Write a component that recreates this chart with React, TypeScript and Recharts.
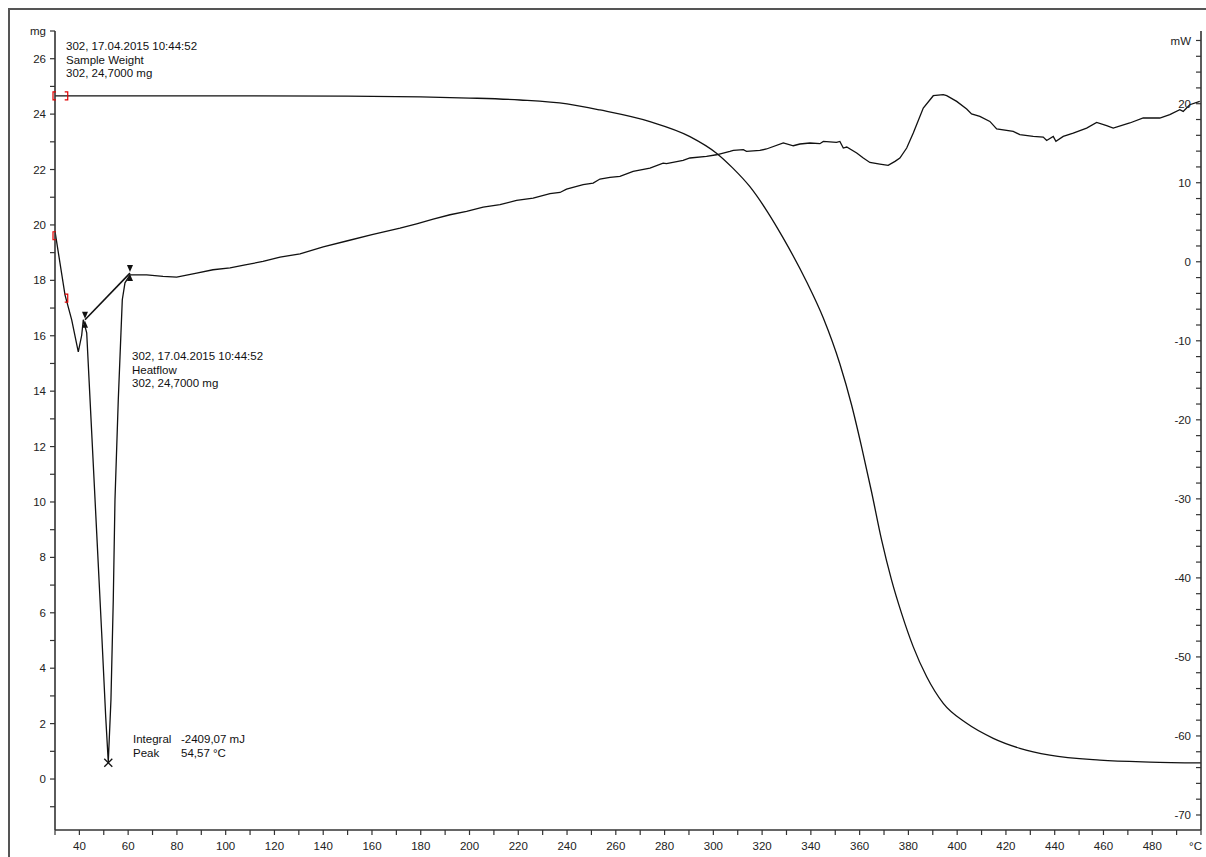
import React from 'react';
import {
  ComposedChart,
  Line,
  XAxis,
  YAxis,
  ReferenceLine,
  ReferenceDot
} from 'recharts';

const FONT = '"Liberation Sans", Arial, sans-serif';
const INK = '#111';
const AXIS = '#333';

// Sample Weight (TG), temperature in °C and mass in mg
const tgTemp = [30, 60, 100, 150, 180, 200, 220.7, 240, 253.5, 274, 290.4, 301.3, 308, 315, 322, 328.5, 338.3, 345.1, 351.9, 356.7, 360.8, 364.9, 369.0, 373.1, 377.2, 382.0, 387.5, 394.3, 403.9, 414.8, 425.7, 438, 458.5, 479, 500];
const tgMass = [24.66, 24.66, 24.66, 24.65, 24.62, 24.58, 24.51, 24.37, 24.15, 23.73, 23.19, 22.59, 22.05, 21.38, 20.5, 19.55, 17.94, 16.64, 14.98, 13.5, 11.99, 10.36, 8.63, 7.18, 5.98, 4.77, 3.69, 2.73, 2.01, 1.47, 1.11, 0.86, 0.68, 0.61, 0.58];

// Heatflow (DSC), temperature in °C and heat flow in mW
const hfTemp = [30, 32.05, 34.1, 36.85, 39.55, 40.95, 41.6, 43.0, 45.05, 47.1, 49.15, 50.8, 51.85, 52.95, 53.9, 54.6, 55.95, 57.05, 57.6, 58.7, 60.75, 67.6, 74.3, 79.9, 88.1, 94.8, 101.8, 108, 115.3, 122.3, 130.5, 140, 150, 160, 171.5, 178.3, 185.1, 192.0, 198.8, 205.6, 212.5, 219.3, 226.1, 233.0, 237.1, 239.8, 246.6, 250.7, 253.5, 257.6, 261.7, 267.1, 274.0, 279.4, 280.8, 287.6, 290.4, 297.2, 301.3, 306.8, 308.2, 312.3, 313.6, 319.1, 321.8, 328.7, 332.8, 335.5, 339.6, 343.7, 345.1, 350.5, 351.9, 353.3, 354.7, 358.8, 361.5, 364.2, 368.3, 371.7, 374.5, 376.5, 379.3, 382.0, 386.1, 390.2, 394.3, 395.7, 399.8, 403.9, 405.9, 409.3, 413.4, 416.2, 423.0, 425.7, 431.2, 435.3, 436.7, 439.4, 440.5, 443.5, 447.6, 453.1, 457.2, 461.3, 464.0, 470.8, 476.3, 483.1, 487.2, 491.3, 492.7, 495.4, 499.5];
const hfPower = [3.84, -0.16, -4.18, -7.34, -11.4, -9.3, -7.34, -8.99, -21.6, -34.3, -47.0, -57.6, -63.3, -55.4, -42.8, -30.1, -17.5, -9.0, -4.8, -2.66, -1.65, -1.65, -1.86, -1.94, -1.43, -1.01, -0.76, -0.4, 0.04, 0.59, 1.0, 1.9, 2.66, 3.42, 4.26, 4.81, 5.4, 5.95, 6.37, 6.92, 7.22, 7.76, 8.06, 8.61, 8.77, 9.2, 9.75, 9.96, 10.47, 10.67, 10.8, 11.43, 11.86, 12.49, 12.41, 12.82, 13.13, 13.33, 13.54, 13.96, 14.09, 14.18, 13.96, 14.09, 14.27, 15.03, 14.68, 14.9, 15.03, 14.94, 15.23, 15.1, 15.23, 14.39, 14.52, 13.76, 13.13, 12.57, 12.36, 12.19, 12.7, 13.13, 14.39, 16.29, 19.46, 21.01, 21.14, 21.01, 20.29, 19.33, 18.7, 18.39, 17.76, 16.8, 16.49, 16.08, 15.86, 15.78, 15.35, 15.86, 15.23, 15.86, 16.29, 16.92, 17.63, 17.22, 16.92, 17.56, 18.19, 18.19, 18.61, 19.24, 19.03, 19.87, 20.29];

// axis ticks
const xTicks = Array.from({ length: 48 }, (_, i) => 30 + i * 10);
const leftTicks = Array.from({ length: 29 }, (_, i) => -1 + i);
const rightTicks = Array.from({ length: 50 }, (_, i) => -70 + i * 2);

// integration limits and peak of the melting signal
const integStart = { t: 42.3, p: -7.34 };
const integEnd = { t: 60.75, p: -1.43 };
const peak = { t: 51.85, p: -63.4 };

const tgData = tgTemp.map((t, i) => ({ t, w: tgMass[i] }));
const hfData = hfTemp.map((t, i) => ({ t, p: hfPower[i] }));

const fmtX = (v: number) => (v === 500 ? '°C' : v % 20 === 0 && v >= 40 && v <= 480 ? String(v) : '');
const fmtLeft = (v: number) => (v === 27 ? 'mg' : v % 2 === 0 && v >= 0 ? String(v) : '');
const fmtRight = (v: number) => (v === 28 ? 'mW' : v % 10 === 0 ? String(v) : '');

const tickStyle = { fill: '#222', fontSize: 11.5, fontFamily: FONT };

// x tick labels; the unit sits at the last tick, right-aligned to the axis end
const XTick = ({ x, y, payload }: any) => {
  const v = payload.value;
  const label = fmtX(v);
  if (!label) return null;
  const isUnit = v === 500;
  return (
    <text
      x={isUnit ? x + 1 : x}
      y={y}
      dy="0.71em"
      textAnchor={isUnit ? 'end' : 'middle'}
      {...tickStyle}
    >
      {label}
    </text>
  );
};

const XMark = ({ cx, cy }: any) => (
  <g stroke={INK} strokeWidth={1.3}>
    <line x1={cx - 4} y1={cy - 4} x2={cx + 4} y2={cy + 4} />
    <line x1={cx - 4} y1={cy + 4} x2={cx + 4} y2={cy - 4} />
  </g>
);

const OpenBracket = ({ cx, cy }: any) => (
  <path d={`M${cx + 1},${cy - 4} H${cx - 2} V${cy + 4} H${cx + 1}`} fill="none" stroke="#e00000" strokeWidth={1.2} />
);

const CloseBracket = ({ cx, cy }: any) => (
  <path d={`M${cx - 1},${cy - 4} H${cx + 2} V${cy + 4} H${cx - 1}`} fill="none" stroke="#e00000" strokeWidth={1.2} />
);

// small triangles marking an integration limit
const LimitMark = ({ cx, cy }: any) => (
  <g fill={INK}>
    <path d={`M${cx},${cy - 1} L${cx - 3},${cy - 8} L${cx + 3},${cy - 8} Z`} />
    <path d={`M${cx},${cy + 1} L${cx - 3},${cy + 8} L${cx + 3},${cy + 8} Z`} />
  </g>
);

const textStyle: React.CSSProperties = {
  position: 'absolute',
  fontFamily: FONT,
  fontSize: 11.5,
  lineHeight: '13.5px',
  color: '#111',
  whiteSpace: 'pre'
};

export default function App() {
  return (
    <div style={{ position: 'absolute', left: 0, top: 0, width: 1206, height: 857, overflow: 'hidden', background: '#fff' }}>
      <div
        style={{
          position: 'absolute',
          left: 8,
          top: 8,
          width: 1212,
          height: 862,
          border: '2px solid #555',
          boxSizing: 'border-box'
        }}
      />
      <div style={{ position: 'absolute', left: 0, top: 0 }}>
        <ComposedChart width={1206} height={857} margin={{ top: 31, right: 5, bottom: 0, left: 0 }}>
          <XAxis
            type="number"
            dataKey="t"
            domain={[30, 500]}
            ticks={xTicks}
            interval={0}
            allowDataOverflow
            height={27}
            tickSize={5}
            tickMargin={7}
            tick={<XTick />}
            axisLine={{ stroke: AXIS, strokeWidth: 1.6 }}
            tickLine={{ stroke: AXIS, strokeWidth: 1.2 }}
          />
          <YAxis
            yAxisId="left"
            type="number"
            domain={[-1.84, 27]}
            ticks={leftTicks}
            interval={0}
            allowDataOverflow
            width={55}
            tickSize={5}
            tickMargin={4}
            tickFormatter={fmtLeft}
            tick={tickStyle}
            axisLine={{ stroke: AXIS, strokeWidth: 1.6 }}
            tickLine={{ stroke: AXIS, strokeWidth: 1.2 }}
          />
          <YAxis
            yAxisId="right"
            orientation="right"
            mirror
            type="number"
            domain={[-71.9, 29.2]}
            ticks={rightTicks}
            interval={0}
            allowDataOverflow
            tickSize={5}
            tickMargin={5}
            tickFormatter={fmtRight}
            tick={tickStyle}
            axisLine={{ stroke: AXIS, strokeWidth: 1.6 }}
            tickLine={{ stroke: AXIS, strokeWidth: 1.2 }}
          />
          <Line
            yAxisId="left"
            data={tgData}
            dataKey="w"
            type="monotone"
            stroke={INK}
            strokeWidth={1.3}
            dot={false}
            isAnimationActive={false}
          />
          <Line
            yAxisId="right"
            data={hfData}
            dataKey="p"
            type="linear"
            stroke={INK}
            strokeWidth={1.3}
            dot={false}
            isAnimationActive={false}
          />
          <ReferenceLine
            yAxisId="right"
            segment={[
              { x: integStart.t, y: integStart.p },
              { x: integEnd.t, y: integEnd.p }
            ]}
            stroke={INK}
            strokeWidth={1.6}
          />
          <ReferenceDot yAxisId="right" x={integStart.t} y={integStart.p} shape={LimitMark} />
          <ReferenceDot yAxisId="right" x={integEnd.t} y={integEnd.p} shape={LimitMark} />
          <ReferenceDot yAxisId="right" x={peak.t} y={peak.p} shape={XMark} />
          <ReferenceDot yAxisId="left" x={30} y={tgMass[0]} shape={OpenBracket} />
          <ReferenceDot yAxisId="left" x={34.4} y={tgMass[0]} shape={CloseBracket} />
          <ReferenceDot yAxisId="right" x={30} y={3.29} shape={OpenBracket} />
          <ReferenceDot yAxisId="right" x={34.4} y={-4.6} shape={CloseBracket} />
        </ComposedChart>
      </div>
      <div style={{ ...textStyle, left: 66, top: 40 }}>
        {'302, 17.04.2015 10:44:52\nSample Weight\n302, 24,7000 mg'}
      </div>
      <div style={{ ...textStyle, left: 132, top: 350 }}>
        {'302, 17.04.2015 10:44:52\nHeatflow\n302, 24,7000 mg'}
      </div>
      <div style={{ ...textStyle, left: 133, top: 733 }}>{'Integral\nPeak'}</div>
      <div style={{ ...textStyle, left: 181, top: 733 }}>{'-2409,07 mJ\n54,57 °C'}</div>
    </div>
  );
}
